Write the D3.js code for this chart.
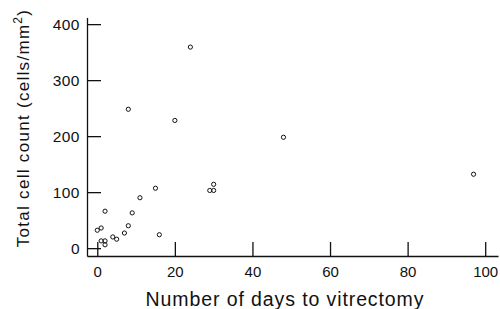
<!DOCTYPE html>
<html lang="en">
<head>
<meta charset="utf-8">
<title>Cell count vs days to vitrectomy</title>
<style>
  body { margin: 0; background: #fff; }
  text { font-family: "Liberation Sans", Arial, sans-serif; fill: #111; }
</style>
</head>
<body>
<svg width="500" height="309"></svg>
<script src="https://cdn.jsdelivr.net/npm/d3@7"></script>
<script>
  // values
  var days   = [0, 1, 2, 1, 2, 2, 4, 5, 7, 8, 9, 11, 15, 16, 29, 30, 30, 8, 20, 24, 48, 97];
  var counts = [32, 36, 66, 13, 13, 6, 20, 16, 27, 40, 63, 90, 107, 24, 103, 103, 114, 248, 228, 359, 198, 132];
  var xTicks = [0, 20, 40, 60, 80, 100];
  var yTicks = [0, 100, 200, 300, 400];

  var svg = d3.select("svg");

  var x = d3.scaleLinear().domain([-2.65, 103.3]).range([87, 498]),
      y = d3.scaleLinear().domain([-14, 412]).range([256, 17.4]);

  var data = days.map(function(d, i) { return {days: d, count: counts[i]}; });

  var gx = svg.append("g")
    .attr("transform", "translate(0,256)")
    .call(d3.axisBottom(x).tickValues(xTicks).tickSizeInner(-14).tickSizeOuter(0).tickPadding(10));

  var gy = svg.append("g")
    .attr("transform", "translate(87,0)")
    .call(d3.axisLeft(y).tickValues(yTicks).tickSizeInner(-14).tickSizeOuter(0).tickPadding(7));

  [gx, gy].forEach(function(g) {
    g.selectAll("path, line").attr("stroke", "#111").attr("stroke-width", 1.3);
    g.selectAll("text").attr("font-size", 15).attr("font-family", "Liberation Sans, Arial, sans-serif").attr("fill", "#111");
  });
  gy.selectAll("text").attr("font-size", 15.5).attr("letter-spacing", 0.5);

  svg.append("g").selectAll("circle")
    .data(data)
    .enter().append("circle")
    .attr("cx", function(d) { return x(d.days); })
    .attr("cy", function(d) { return y(d.count); })
    .attr("r", 2.1)
    .attr("fill", "none")
    .attr("stroke", "#111")
    .attr("stroke-width", 1);

  svg.append("text")
    .attr("x", 285)
    .attr("y", 306)
    .attr("text-anchor", "middle")
    .attr("font-size", 19.5)
    .attr("letter-spacing", 0.9)
    .text("Number of days to vitrectomy");

  var yl = svg.append("text")
    .attr("transform", "translate(28.5,128) rotate(-90)")
    .attr("text-anchor", "middle")
    .attr("font-size", 17)
    .attr("letter-spacing", 1.3);
  yl.append("tspan").text("Total cell count (cells/mm");
  yl.append("tspan").attr("font-size", 12).attr("dy", -7).text("2");
  yl.append("tspan").attr("dy", 7).text(")");
</script>
</body>
</html>
